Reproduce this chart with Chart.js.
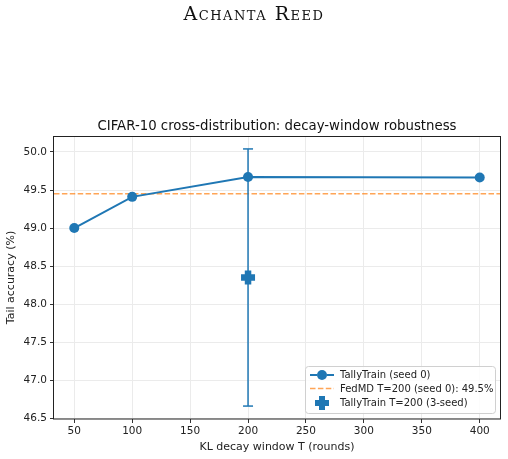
<!DOCTYPE html>
<html><head><meta charset="utf-8">
<script src="https://cdn.jsdelivr.net/npm/chart.js@4/dist/chart.umd.min.js"></script>
<style>
html,body{margin:0;padding:0;background:#fff;}
#wrap{position:relative;width:508px;height:459px;overflow:hidden;}
#sup{position:absolute;left:0;top:1px;width:508px;text-align:center;font-family:"DejaVu Serif","Liberation Serif",serif;font-variant:small-caps;font-size:19px;letter-spacing:1.5px;color:#111;line-height:24px;}
canvas{position:absolute;left:0;top:0;}
</style></head><body>
<div id="wrap"><canvas id="c" width="508" height="459"></canvas><div id="sup">Achanta Reed</div></div>
<script>
// ---- data ----
const decayWindows = [50, 100, 200, 400];
const tallyAcc = [49.00, 49.41, 49.67, 49.665];
const fedmdAcc = 49.45;
const seedWindow = 200;
const seedMean = 48.35;
const seedErr = 1.69;
const xTicks = [50, 100, 150, 200, 250, 300, 350, 400];
const yTicks = [46.5, 47.0, 47.5, 48.0, 48.5, 49.0, 49.5, 50.0];
const xLim = [32.5, 417.5];
const yLim = [46.49, 50.21];
const chartTitle = 'CIFAR-10 cross-distribution: decay-window robustness';
const seriesLabels = ['TallyTrain (seed 0)', 'FedMD T=200 (seed 0): 49.5%', 'TallyTrain T=200 (3-seed)'];

const BLUE = '#1f77b4';
const ORANGE = 'rgba(255,127,14,0.7)';
const FONT = 'DejaVu Sans';

const framePlugin = {
  id: 'frame',
  afterDatasetsDraw(chart) {
    const {ctx, chartArea: a} = chart;
    ctx.save();
    ctx.strokeStyle = '#222';
    ctx.lineWidth = 1;
    ctx.strokeRect(Math.round(a.left) - 0.5, Math.round(a.top) + 0.5, Math.round(a.right - a.left) + 1, Math.round(a.bottom - a.top) - 0.5);
    // axes title centred over the plot area
    ctx.fillStyle = '#111';
    ctx.font = '13.3px "' + FONT + '"';
    ctx.textAlign = 'center';
    ctx.textBaseline = 'alphabetic';
    ctx.fillText(chartTitle, (a.left + a.right) / 2, a.top - 6);
    ctx.restore();
  }
};

const legendPlugin = {
  id: 'mplLegend',
  afterDraw(chart) {
    const {ctx, chartArea: a} = chart;
    const w = 190, h = 47;
    const x0 = a.right - 5 - w, y0 = a.bottom - 6 - h;
    ctx.save();
    ctx.fillStyle = 'rgba(255,255,255,0.85)';
    ctx.strokeStyle = '#d0d0d0';
    ctx.lineWidth = 1;
    ctx.beginPath();
    ctx.roundRect(x0 + 0.5, y0 + 0.5, w, h, 3);
    ctx.fill(); ctx.stroke();
    const hx0 = x0 + 5, hx1 = x0 + 29, hc = (hx0 + hx1) / 2;
    const rows = [y0 + 9, y0 + 22.5, y0 + 37];
    ctx.strokeStyle = BLUE; ctx.lineWidth = 2;
    ctx.beginPath(); ctx.moveTo(hx0, rows[0]); ctx.lineTo(hx1, rows[0]); ctx.stroke();
    Chart.helpers.drawPoint(ctx, {pointStyle: 'circle', radius: 5, borderWidth: 0}, hc, rows[0]);
    ctx.fillStyle = BLUE; ctx.fill();
    ctx.strokeStyle = ORANGE; ctx.lineWidth = 1.5; ctx.setLineDash([5.5, 2.4]);
    ctx.beginPath(); ctx.moveTo(hx0, rows[1]); ctx.lineTo(hx1, rows[1]); ctx.stroke();
    ctx.setLineDash([]);
    ctx.strokeStyle = BLUE; ctx.lineWidth = 1.5;
    ctx.beginPath(); ctx.moveTo(hc, rows[2] - 7); ctx.lineTo(hc, rows[2] + 7); ctx.stroke();
    ctx.lineWidth = 6;
    Chart.helpers.drawPoint(ctx, {pointStyle: 'cross', radius: 7, borderWidth: 6}, hc, rows[2]);
    ctx.fillStyle = '#222';
    ctx.font = '10px "' + FONT + '"';
    ctx.textBaseline = 'middle';
    ctx.textAlign = 'left';
    seriesLabels.forEach((t, i) => ctx.fillText(t, x0 + 35, rows[i] + 0.5));
    ctx.restore();
  }
};

new Chart(document.getElementById('c'), {
  type: 'line',
  data: {
    datasets: [
      {
        label: seriesLabels[0],
        data: decayWindows.map((x, i) => ({x, y: tallyAcc[i]})),
        borderColor: BLUE, backgroundColor: BLUE, borderWidth: 2,
        pointRadius: 5, pointBorderWidth: 0, pointBackgroundColor: BLUE,
        order: 2
      },
      {
        label: seriesLabels[1],
        data: [{x: xLim[0], y: fedmdAcc}, {x: xLim[1], y: fedmdAcc}],
        borderColor: ORANGE, borderWidth: 1.5, borderDash: [5.5, 2.4],
        pointRadius: 0, order: 3
      },
      {
        label: seriesLabels[2] + ' err',
        data: [{x: seedWindow, y: seedMean - seedErr}, {x: seedWindow, y: seedMean + seedErr}],
        borderColor: BLUE, borderWidth: 1.5,
        pointStyle: 'line', pointRadius: 5, pointBorderWidth: 1.5, pointBorderColor: BLUE,
        order: 1
      },
      {
        label: seriesLabels[2],
        data: [{x: seedWindow, y: seedMean}],
        showLine: false, borderColor: BLUE, backgroundColor: BLUE,
        pointStyle: 'cross', pointRadius: 7, pointBorderWidth: 6.5, pointBorderColor: BLUE,
        order: 0
      }
    ]
  },
  options: {
    responsive: false, animation: false, events: [],
    layout: {autoPadding: false, padding: {left: 0, right: 8, top: 136, bottom: 0}},
    plugins: {
      legend: {display: false}, tooltip: {enabled: false}, title: {display: false}
    },
    scales: {
      x: {
        type: 'linear', min: xLim[0], max: xLim[1],
        afterBuildTicks: s => { s.ticks = xTicks.map(v => ({value: v})); },
        afterFit: s => { s.height = 40; s.paddingLeft = 0; s.paddingRight = 0; },
        ticks: {font: {family: FONT, size: 10.5}, color: '#222', padding: 2, maxRotation: 0, autoSkip: false},
        grid: {color: '#ebebeb', lineWidth: 1, tickColor: '#333', tickLength: 4},
        border: {display: false},
        title: {display: true, text: 'KL decay window T (rounds)', font: {family: FONT, size: 11}, color: '#222', padding: {top: 0, bottom: 5}}
      },
      y: {
        type: 'linear', min: yLim[0], max: yLim[1],
        afterBuildTicks: s => { s.ticks = yTicks.map(v => ({value: v})); },
        afterFit: s => { s.width = 54; s.paddingTop = 0; s.paddingBottom = 0; },
        ticks: {font: {family: FONT, size: 10.5}, color: '#222', padding: 3, callback: v => v.toFixed(1), autoSkip: false},
        grid: {color: '#ebebeb', lineWidth: 1, tickColor: '#333', tickLength: 4},
        border: {display: false},
        title: {display: true, text: 'Tail accuracy (%)', font: {family: FONT, size: 11}, color: '#222', padding: {top: 5, bottom: 0}}
      }
    }
  },
  plugins: [framePlugin, legendPlugin]
});
</script>
</body></html>
